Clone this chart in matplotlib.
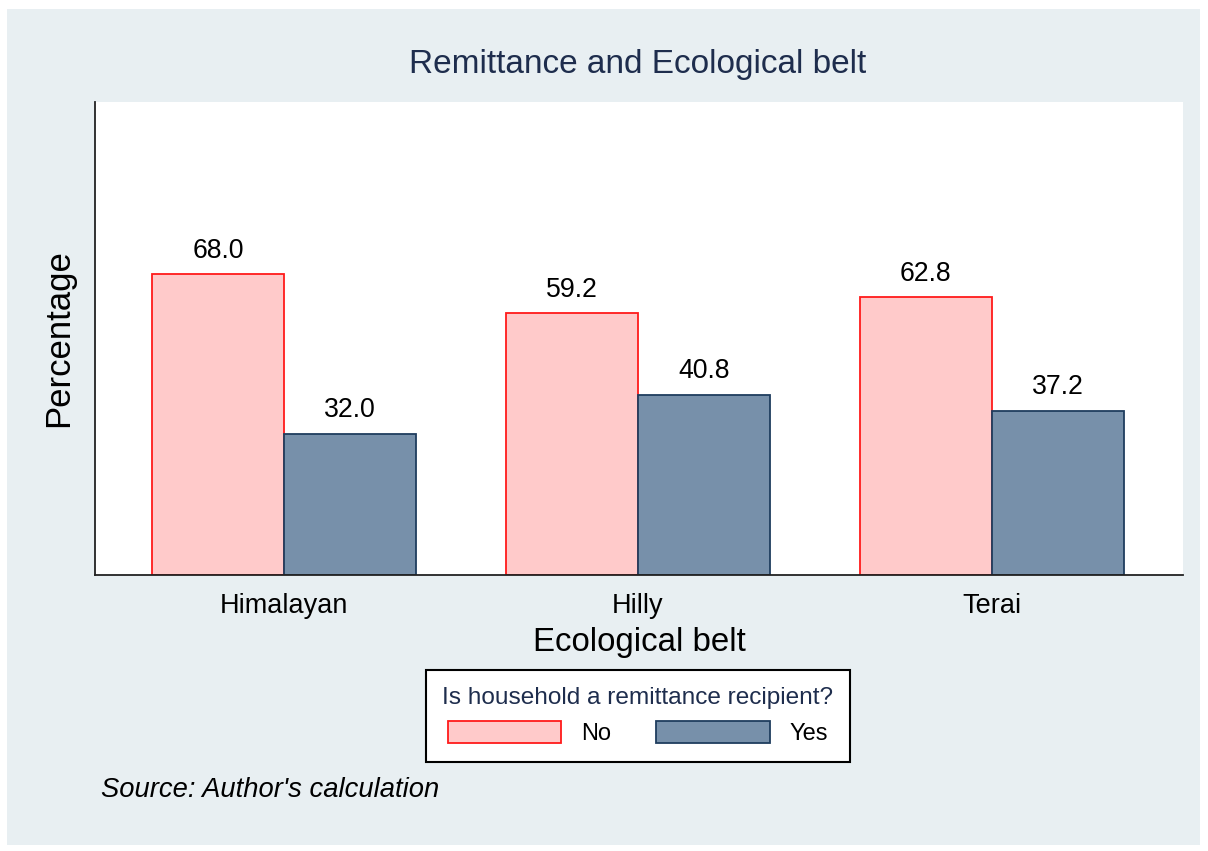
import numpy as np
import matplotlib
matplotlib.use("Agg")
import matplotlib.pyplot as plt
from matplotlib.patches import Rectangle, Patch

belts = ["Himalayan", "Hilly", "Terai"]
no_vals = [68.0, 59.2, 62.8]
yes_vals = [32.0, 40.8, 37.2]
series_names = ["No", "Yes"]

plt.rcParams['font.family'] = ['Liberation Sans', 'DejaVu Sans']

W, H = 1208, 851
fig = plt.figure(figsize=(W / 100, H / 100), dpi=100)
fig.patch.set_facecolor("white")

# light background panel (Stata style)
fig.patches.append(Rectangle((7 / W, 6 / H), 1193 / W, 836 / H, transform=fig.transFigure,
                             facecolor="#e8eff2", edgecolor="none", zorder=-10))

ax = fig.add_axes([95 / W, 1 - 575 / H, (1183 - 95) / W, (575 - 102) / H])
ax.set_facecolor("white")
ax.set_zorder(1)

x = np.arange(len(belts))
w = 132 / 354
pink, pink_edge = "#ffcaca", "#ff1a1a"
blue, blue_edge = "#7790aa", "#1f3d5e"

b1 = ax.bar(x - w / 2, no_vals, w, color=pink, edgecolor=pink_edge, linewidth=1.3)
b2 = ax.bar(x + w / 2, yes_vals, w, color=blue, edgecolor=blue_edge, linewidth=1.3)

for bars, vals in [(b1, no_vals), (b2, yes_vals)]:
    for r, v in zip(bars, vals):
        ax.annotate(f"{v:.1f}", (r.get_x() + r.get_width() / 2, v), xytext=(0, 17),
                    textcoords="offset points", ha="center", va="center", fontsize=19.2)

ax.set_xlim(-0.534, 2.54)
ax.set_ylim(0, 107)
ax.set_yticks([])
ax.set_xticks(x)
ax.set_xticklabels(belts, fontsize=19.5)
ax.tick_params(axis="x", length=0, pad=13)
for s in ["top", "right"]:
    ax.spines[s].set_visible(False)
for s in ["left", "bottom"]:
    ax.spines[s].set_color("#222222")
    ax.spines[s].set_linewidth(1.3)

ax.set_xlabel("Ecological belt", fontsize=23.8, labelpad=6)
ax.set_ylabel("Percentage", fontsize=25, labelpad=14)

fig.text(638 / W, 1 - 64 / H, "Remittance and Ecological belt", ha="center", va="center",
         fontsize=24, color="#1e2d4d")

handles = [Patch(facecolor=pink, edgecolor=pink_edge, linewidth=1.3),
           Patch(facecolor=blue, edgecolor=blue_edge, linewidth=1.3)]
leg = fig.legend(handles, series_names, loc="center", bbox_to_anchor=(638 / W, 1 - 716 / H),
                 ncol=2, fontsize=17, title="Is household a remittance recipient?",
                 title_fontsize=17.6, frameon=True, fancybox=False, edgecolor="black",
                 handlelength=4.8, handleheight=1.1, handletextpad=0.85, columnspacing=1.9,
                 borderpad=0.7, framealpha=1)
leg.get_frame().set_linewidth(1.5)
leg.get_title().set_color("#1e2d4d")

fig.text(101 / W, 1 - 790 / H, "Source: Author's calculation", ha="left", va="center",
         fontsize=19.7, style="italic")

fig.savefig("out.png", dpi=100)
